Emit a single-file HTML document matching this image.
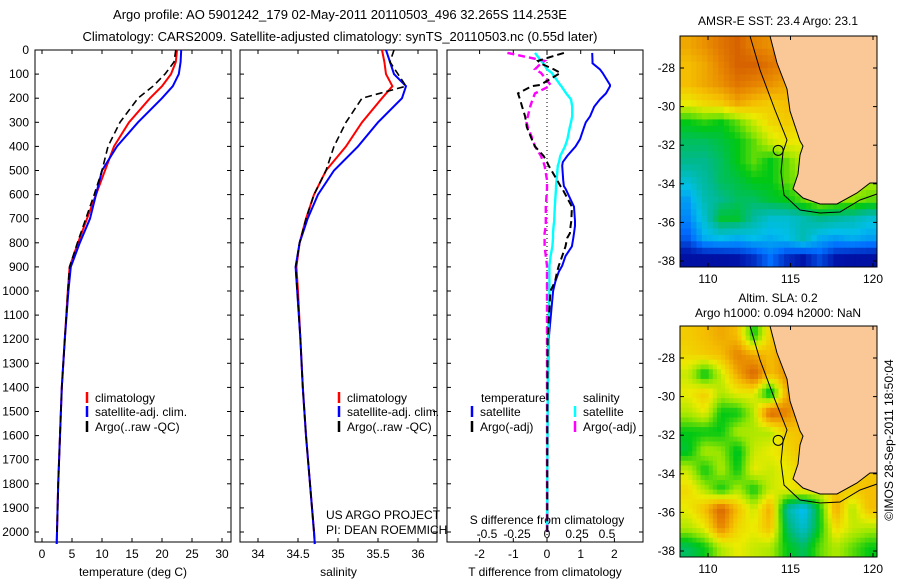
<!DOCTYPE html>
<html><head><meta charset="utf-8"><style>
body{margin:0;background:#fff;width:900px;height:580px;overflow:hidden}
svg text{font-family:"Liberation Sans",sans-serif;fill:#000}
</style></head><body>
<svg id="s" width="900" height="580" xmlns="http://www.w3.org/2000/svg">
<text x="340" y="19" font-size="13" text-anchor="middle">Argo profile: AO 5901242_179 02-May-2011 20110503_496 32.265S 114.253E</text>
<text x="340" y="41" font-size="13" text-anchor="middle">Climatology: CARS2009. Satellite-adjusted climatology: synTS_20110503.nc (0.55d later)</text>
<text x="778" y="25" font-size="12" text-anchor="middle">AMSR-E SST: 23.4  Argo: 23.1</text>
<text x="778" y="302" font-size="12" text-anchor="middle">Altim. SLA: 0.2</text>
<text x="778" y="317" font-size="12" text-anchor="middle">Argo h1000: 0.094 h2000: NaN</text>
<text transform="translate(893,440) rotate(-90)" font-size="12" text-anchor="middle">©IMOS 28-Sep-2011 18:50:04</text>
</svg>
<script>
const depthTicks=[0,100,200,300,400,500,600,700,800,900,1000,1100,1200,1300,1400,1500,1600,1700,1800,1900,2000];
// temperature (deg C)
const tDepth=[0,50,100,150,200,300,400,500,600,700,800,900,1000,1200,1400,1600,1800,2000,2050];
const tClim=[22.5,22.3,21.5,20,18,14.5,12,10.5,9,7.5,6,4.6,4.3,3.8,3.3,3.0,2.7,2.5,2.45];
const tSat=[23.2,23.1,22.8,21.8,20,16,12.5,10,9,8,6.3,4.8,4.4,3.8,3.3,3.0,2.7,2.5,2.45];
const tArgo=[22.3,22.0,20.5,18.5,16,13,11,10,8.7,7.3,5.9,4.6,4.3,3.8,3.3,3.0,2.7,2.5,null];
// salinity
const sClim=[35.55,35.58,35.6,35.68,35.55,35.3,35.1,34.85,34.7,34.6,34.52,34.48,34.5,34.53,34.56,34.6,34.65,34.7,34.71];
const sSat=[35.6,35.65,35.7,35.85,35.8,35.5,35.25,34.95,34.75,34.62,34.52,34.47,34.49,34.53,34.56,34.6,34.65,34.7,34.71];
const sArgo=[35.7,35.65,35.75,35.85,35.3,35.1,34.95,34.85,34.7,34.6,34.52,34.47,34.49,34.53,34.56,34.6,34.65,34.7,null];
// differences
const dDepth=[12,45,55,80,95,145,150,180,205,235,275,300,320,370,400,440,465,480,540,565,575,650,710,730,760,780,815,855,895,920,960,1000,1200,1500,2000];
const dTsat=[1.34,1.35,1.35,1.57,1.65,1.87,1.87,1.75,1.57,1.4,1.28,1.15,1.1,0.98,0.85,0.6,0.47,0.45,0.48,0.5,0.55,0.8,0.83,0.83,0.8,0.78,0.74,0.55,0.45,0.35,0.25,0.18,0.05,0.02,0.01];
const dTargo=[0.5,-0.27,-0.2,0.2,0.4,-0.2,-0.45,-0.86,-0.8,-0.74,-0.65,-0.62,-0.6,-0.45,-0.36,-0.1,0,0.05,0.3,0.4,0.45,0.74,0.72,0.7,0.68,0.6,0.55,0.45,0.35,0.3,0.24,0.1,0.02,0.01,0.01];
const dSsat=[-0.1,-0.05,-0.03,0,0.04,0.11,0.12,0.16,0.2,0.21,0.21,0.2,0.19,0.17,0.15,0.11,0.1,0.09,0.08,0.075,0.075,0.065,0.06,0.055,0.05,0.05,0.045,0.03,0.02,0.02,0.02,0.02,0.01,0.005,0.0];
const dSargo=[-0.33,-0.02,-0.05,-0.1,-0.05,0.03,0.02,-0.1,-0.12,-0.14,-0.16,-0.17,-0.16,-0.12,-0.1,-0.05,-0.03,-0.02,0,0,0,-0.01,-0.01,-0.01,-0.02,-0.02,-0.02,-0.01,0,0,0,0,0,0,0];
// SST map grid (0..1 colour index, rows N->S, cols W->E)
const sstGrid=[
[.75,.78,.82,.85,.8,.78,.9,.88,.8,.8,.8,.8],
[.72,.75,.8,.85,.85,.82,.8,.75,.75,.8,.8,.8],
[.72,.75,.78,.82,.8,.78,.75,.7,.7,.7,.7,.7],
[.65,.68,.7,.75,.72,.7,.72,.7,.68,.7,.7,.7],
[.5,.52,.5,.55,.62,.68,.7,.68,.65,.7,.7,.7],
[.45,.45,.47,.5,.55,.62,.66,.65,.6,.65,.65,.65],
[.42,.42,.45,.5,.55,.5,.55,.62,.6,.6,.6,.6],
[.35,.4,.45,.47,.5,.5,.55,.58,.6,.6,.6,.6],
[.28,.38,.42,.45,.45,.48,.5,.55,.6,.58,.58,.55],
[.25,.35,.48,.48,.4,.35,.35,.38,.42,.4,.38,.35],
[.2,.3,.32,.3,.32,.3,.32,.38,.3,.28,.3,.28],
[.1,.1,.1,.12,.15,.22,.15,.12,.18,.12,.1,.1]];
const slaGrid=[
[.7,.72,.75,.72,.5,.7,.75,.75,.7,.7,.7,.7],
[.68,.7,.72,.8,.75,.72,.78,.78,.7,.7,.7,.7],
[.62,.48,.62,.75,.85,.72,.78,.78,.7,.7,.7,.7],
[.65,.7,.6,.65,.65,.45,.75,.78,.7,.7,.7,.7],
[.6,.65,.5,.5,.6,.85,.8,.72,.7,.7,.7,.7],
[.5,.5,.5,.6,.6,.6,.7,.72,.7,.7,.7,.7],
[.48,.6,.58,.48,.62,.65,.68,.72,.7,.7,.7,.7],
[.62,.5,.6,.5,.65,.62,.65,.7,.7,.7,.7,.7],
[.68,.6,.5,.6,.5,.62,.65,.68,.65,.7,.7,.72],
[.65,.72,.85,.72,.62,.75,.4,.3,.5,.75,.6,.72],
[.6,.65,.8,.68,.65,.72,.45,.35,.5,.68,.62,.6],
[.45,.5,.6,.65,.62,.6,.5,.45,.55,.6,.55,.5]];
const lonTicks=[110,115,120];
const latTicks=[-28,-30,-32,-34,-36,-38];

const S=document.getElementById('s');const NS='http://www.w3.org/2000/svg';
function mk(t,a,p){const e=document.createElementNS(NS,t);for(const k in a)e.setAttribute(k,a[k]);(p||S).appendChild(e);return e;}
const Y0=50,Y1=542;
const yD=d=>Y0+d*0.241;
function line(xs,ds,sx,col,w,dash,name){
  let pts=[];for(let i=0;i<ds.length;i++){if(xs[i]==null)continue;pts.push(sx(xs[i]).toFixed(1)+','+yD(ds[i]).toFixed(1));}
  const e=mk('polyline',{points:pts.join(' '),fill:'none',stroke:col,'stroke-width':w});
  if(dash)e.setAttribute('stroke-dasharray',dash);
  
  
}
function panel(x0,x1,xt,sx,title,name){
  const r=mk('rect',{x:x0,y:Y0,width:x1-x0,height:Y1-Y0,fill:'none',stroke:'#000','stroke-width':1});
  
  
  depthTicks.forEach(d=>{mk('line',{x1:x0,x2:x0+4,y1:yD(d),y2:yD(d),stroke:'#000'});mk('line',{x1:x1,x2:x1-4,y1:yD(d),y2:yD(d),stroke:'#000'});});
  xt.forEach(v=>{const x=sx(v);mk('line',{x1:x,x2:x,y1:Y1,y2:Y1-4,stroke:'#000'});mk('line',{x1:x,x2:x,y1:Y0,y2:Y0+4,stroke:'#000'});
    const t=mk('text',{x:x,y:558,'font-size':12,'text-anchor':'middle'});t.textContent=v;
    
    });
  const t=mk('text',{x:(x0+x1)/2,y:576,'font-size':12,'text-anchor':'middle'});t.textContent=title;
  
  
}
depthTicks.forEach(d=>{const t=mk('text',{x:29,y:yD(d)+4,'font-size':12,'text-anchor':'end'});t.textContent=d;
  
  });
const sx1=v=>42+v*6;
panel(35,231,[0,5,10,15,20,25,30],sx1,'temperature (deg C)','temp-panel');
line(tClim,tDepth,sx1,'#f00',2,null,'temp-climatology-line');
line(tSat,tDepth,sx1,'#00f',2,null,'temp-satellite-line');
line(tArgo,tDepth,sx1,'#000',1.6,'7,4','temp-argo-line');
const sx2=v=>258+(v-34)*80;
panel(240,437,[34,34.5,35,35.5,36],sx2,'salinity','sal-panel');
line(sClim,tDepth,sx2,'#f00',2,null,'sal-climatology-line');
line(sSat,tDepth,sx2,'#00f',2,null,'sal-satellite-line');
line(sArgo,tDepth,sx2,'#000',1.6,'7,4','sal-argo-line');
const sx3=v=>547+v*33.7, sxS=v=>547+v*120;
panel(447,643,[-2,-1,0,1,2],sx3,'T difference from climatology','diff-panel');
mk('line',{x1:547,x2:547,y1:Y0,y2:Y1,stroke:'#000','stroke-dasharray':'1,3'});
[-0.5,-0.25,0,0.25,0.5].forEach(v=>{const t=mk('text',{x:sxS(v),y:538,'font-size':12,'text-anchor':'middle'});t.textContent=v;
  
  });
{const t=mk('text',{x:547,y:524,'font-size':12,'text-anchor':'middle'});t.textContent='S difference from climatology';

}
line(dTsat,dDepth,sx3,'#00f',2,null,'t-diff-satellite-line');
line(dSsat,dDepth,sxS,'#0ff',2.4,null,'s-diff-satellite-line');
line(dSargo,dDepth,sxS,'#f0f',2.4,'7,4','s-diff-argo-line');
line(dTargo,dDepth,sx3,'#000',2,'7,4','t-diff-argo-line');
function leg(x,y,col,txt,name){mk('line',{x1:x,x2:x,y1:y-6,y2:y+5,stroke:col,'stroke-width':2.5});
  const t=mk('text',{x:x+8,y:y+4,'font-size':12});t.textContent=txt;
  
  }
leg(87,398,'#f00','climatology','legend-climatology');leg(87,412,'#00f','satellite-adj. clim.','legend-satellite');leg(87,427,'#000','Argo(..raw -QC)','legend-argo');
leg(339,398,'#f00','climatology','legend-climatology-2');leg(339,412,'#00f','satellite-adj. clim.','legend-satellite-2');leg(339,427,'#000','Argo(..raw -QC)','legend-argo-2');
{const t=mk('text',{x:481,y:402,'font-size':12});t.textContent='temperature';
 const u=mk('text',{x:583,y:402,'font-size':12});u.textContent='salinity';}
leg(472,412,'#00f','satellite','legend-t-satellite');leg(472,427,'#000','Argo(-adj)','legend-t-argo');
leg(575,412,'#0ff','satellite','legend-s-satellite');leg(575,427,'#f0f','Argo(-adj)','legend-s-argo');
{const t=mk('text',{x:326,y:519,'font-size':12});t.textContent='US ARGO PROJECT';
 const u=mk('text',{x:326,y:534,'font-size':12});u.textContent='PI: DEAN ROEMMICH';}
// colour palette (matches the reference maps' look)
const PAL=[[0,[0,0,130]],[0.12,[0,20,170]],[0.22,[0,110,255]],[0.32,[0,190,235]],[0.42,[0,185,140]],[0.5,[0,200,20]],[0.58,[150,230,0]],[0.65,[235,235,0]],[0.72,[245,190,0]],[0.8,[230,130,0]],[0.88,[205,80,0]],[1,[150,20,0]]];
function col(v){v=Math.max(0,Math.min(1,v));for(let i=1;i<PAL.length;i++){if(v<=PAL[i][0]){const a=PAL[i-1],b=PAL[i],f=(v-a[0])/(b[0]-a[0]);return 'rgb('+[0,1,2].map(k=>Math.round(a[1][k]+f*(b[1][k]-a[1][k]))).join(',')+')';}}return 'rgb(150,20,0)';}
const MX0=680,MX1=877;
const lonX=l=>708+(l-110)*16.5;
function sample(grid,r,c){const nr=grid.length,nc=grid[0].length;
  r=Math.max(0,Math.min(nr-1,r));c=Math.max(0,Math.min(nc-1,c));
  const r0=Math.floor(r),c0=Math.floor(c),r1=Math.min(nr-1,r0+1),c1=Math.min(nc-1,c0+1),fr=r-r0,fc=c-c0;
  return grid[r0][c0]*(1-fr)*(1-fc)+grid[r0][c1]*(1-fr)*fc+grid[r1][c0]*fr*(1-fc)+grid[r1][c1]*fr*fc;}
function map(top,grid,name,sub){
  const bot=top+231;const latY=la=>top+32+(-28-la)*19.3;
  const g=mk('g',{});
  const nr=grid.length,nc=grid[0].length,cw=(MX1-MX0)/nc/sub,ch=(bot-top)/nr/sub;
  for(let r=0;r<nr*sub;r++)for(let c=0;c<nc*sub;c++){
    const v=sample(grid,(r+0.5)/sub-0.5,(c+0.5)/sub-0.5);
    const e=mk('rect',{x:(MX0+c*cw).toFixed(2),y:(top+r*ch).toFixed(2),width:(cw+0.5).toFixed(2),height:(ch+0.5).toFixed(2),fill:col(v)},g);
    
    }
  const o=top-36;
  const land=[[770,36],[777,63],[787,89],[790,111],[800,141],[803,146],[800,155],[798,174],[793,189],[803,198],[820,204],[837,204],[857,193],[870,183],[877,183],[877,36]];
  const lp=mk('polygon',{points:land.map(p=>p[0]+','+(p[1]+o)).join(' '),fill:'#fac896',stroke:'#000','stroke-width':1},g);
  
  
  const shelf=[[750,36],[760,70],[775,110],[787,140],[783,152],[781,172],[784,195],[800,210],[820,213],[840,212],[860,200],[877,194]];
  mk('polyline',{points:shelf.map(p=>p[0]+','+(p[1]+o)).join(' '),fill:'none',stroke:'#000','stroke-width':1},g);
  const cc=mk('circle',{cx:lonX(114.253),cy:latY(-32.265),r:5,fill:'none',stroke:'#000'},g);
  
  
  mk('rect',{x:MX0,y:top,width:MX1-MX0,height:bot-top,fill:'none',stroke:'#000'},g);
  lonTicks.forEach(l=>{const x=lonX(l);mk('line',{x1:x,x2:x,y1:bot,y2:bot-4,stroke:'#000'});mk('line',{x1:x,x2:x,y1:top,y2:top+4,stroke:'#000'});
    const t=mk('text',{x:x,y:bot+16,'font-size':12,'text-anchor':'middle'});t.textContent=l;
    
    });
  latTicks.forEach(la=>{const y=latY(la);mk('line',{x1:MX0,x2:MX0+4,y1:y,y2:y,stroke:'#000'});mk('line',{x1:MX1,x2:MX1-4,y1:y,y2:y,stroke:'#000'});
    const t=mk('text',{x:MX0-5,y:y+4,'font-size':12,'text-anchor':'end'});t.textContent=la;
    
    });
}
map(36,sstGrid,'sst-map',3);
map(326,slaGrid,'sla-map',4);
</script>
</body></html>
